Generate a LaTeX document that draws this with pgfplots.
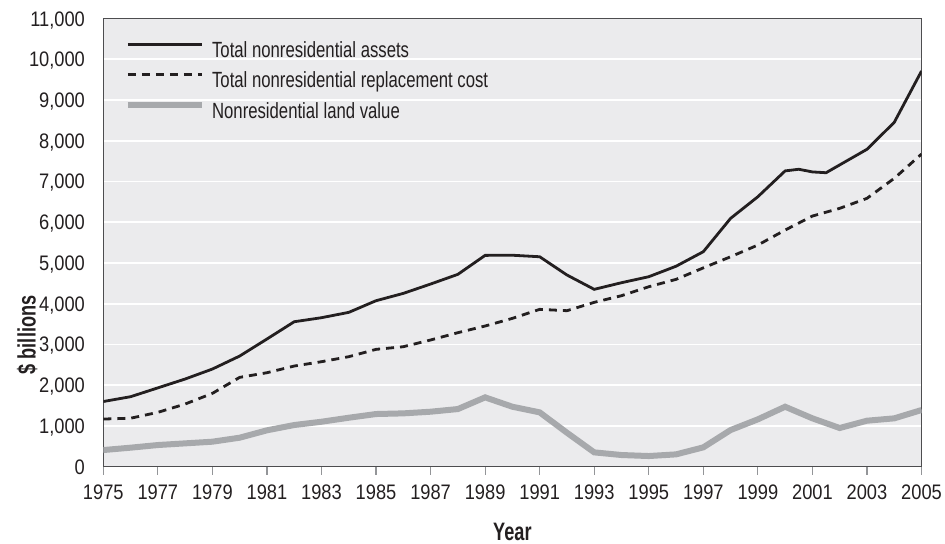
\documentclass[border=0pt]{standalone}
\usepackage{fontspec}
\setmainfont{Liberation Sans}
\newfontfamily\tickfont{Liberation Sans}[FakeStretch=0.87]
\newfontfamily\legfont{Liberation Sans}[FakeStretch=0.76]
\newfontfamily\labfont{Liberation Sans Bold}[FakeStretch=0.72]
\usepackage{pgfplots}
\pgfplotsset{compat=1.18}
\definecolor{bgcol}{HTML}{EBEBED}
\definecolor{bordcol}{HTML}{4D4D4F}
\definecolor{linecol}{HTML}{231F20}
\definecolor{landcol}{HTML}{A7A9AC}
\definecolor{tickcol}{HTML}{939598}
\begin{document}
\begin{tikzpicture}
\begin{axis}[
  name=ax,
  scale only axis,
  width=409.1pt, height=224.1pt,
  xmin=1975, xmax=2005, ymin=0, ymax=11000,
  xtick={1975,1977,...,2005},
  ytick={0,1000,...,11000},
  scaled y ticks=false,
  tick pos=left,
  tick align=outside,
  major tick length=4pt,
  xtick style={draw=tickcol, line width=0.6pt},
  ytick style={draw=none},
  axis line style={draw=bordcol, line width=0.7pt},
  axis background/.style={fill=bgcol},
  ymajorgrids,
  major grid style={draw=white, line width=0.8pt},
  /pgf/number format/assume math mode=true,
  tick label style={font=\tickfont\fontsize{10.5}{12}\selectfont, text=linecol},
  xticklabel style={/pgf/number format/1000 sep={}, anchor=north, inner sep=0pt, yshift=-5pt},
  yticklabel style={/pgf/number format/1000 sep={,}, anchor=base east, inner sep=0pt, xshift=-5pt, yshift=-3.75pt},
  xlabel={Year},
  ylabel={\$ billions},
  label style={font=\labfont\fontsize{12.6}{14}\selectfont, text=linecol},
  xlabel style={at={(rel axis cs:0.5,0)}, anchor=base, yshift=-36.65pt, inner sep=0pt},
  ylabel style={at={(rel axis cs:0,0.294)}, anchor=center, yshift=38pt, inner sep=0pt},
  legend style={at={(rel axis cs:0,1)}, anchor=north west, xshift=10.6pt, yshift=-11.5pt,
    draw=none, fill=none, inner sep=0pt, row sep=5pt, column sep=3.6pt,
    font=\legfont\fontsize{11}{12}\selectfont, text=linecol,
    nodes={inner sep=0pt, text height=8pt, text depth=2pt}},
  legend cell align=left,
  legend image code/.code={\draw[#1] (0pt,3.8pt) -- (37pt,3.8pt);},
]
\addplot[color=linecol, line width=1.4pt] coordinates {
(1975,1600) (1976,1718) (1977,1935) (1978,2152) (1979,2397) (1980,2716)
(1981,3134) (1982,3558) (1983,3657) (1984,3788) (1985,4074) (1986,4254)
(1987,4483) (1988,4721) (1989,5187) (1990,5190) (1991,5153) (1992,4705)
(1993,4353) (1994,4516) (1995,4663) (1996,4920) (1997,5277) (1998,6095)
(1999,6626) (2000,7260) (2000.5,7300) (2001,7235) (2001.5,7215) (2003,7790)
(2004,8451) (2005,9710)};
\addlegendentry{Total nonresidential assets}
\addplot[color=linecol, line width=1.4pt, dash pattern=on 4pt off 3pt] coordinates {
(1975,1170) (1976,1190) (1977,1334) (1978,1538) (1979,1800) (1980,2193)
(1981,2307) (1982,2471) (1983,2577) (1984,2700) (1985,2880) (1986,2945)
(1987,3110) (1988,3289) (1989,3453) (1990,3641) (1991,3862) (1992,3829)
(1993,4034) (1994,4197) (1995,4417) (1996,4598) (1997,4880) (1998,5153)
(1999,5440) (2000,5808) (2001,6152) (2002,6341) (2003,6586) (2004,7077)
(2005,7673)};
\addlegendentry{Total nonresidential replacement cost}
\addplot[color=landcol, line width=3pt] coordinates {
(1975,409) (1976,467) (1977,532) (1978,573) (1979,614) (1980,712)
(1981,893) (1982,1023) (1983,1104) (1984,1202) (1985,1293) (1986,1309)
(1987,1350) (1988,1415) (1989,1702) (1990,1472) (1991,1334) (1992,834)
(1993,352) (1994,287) (1995,262) (1996,303) (1997,475) (1998,900)
(1999,1163) (2000,1472) (2001,1187) (2002,950) (2003,1129) (2004,1187)
(2005,1391)};
\addlegendentry{Nonresidential land value}
\end{axis}
\pgfresetboundingbox
\path (ax.south west) ++(-51.65pt,-38.15pt) rectangle ++(472.5pt,271.5pt);
\end{tikzpicture}
\end{document}
